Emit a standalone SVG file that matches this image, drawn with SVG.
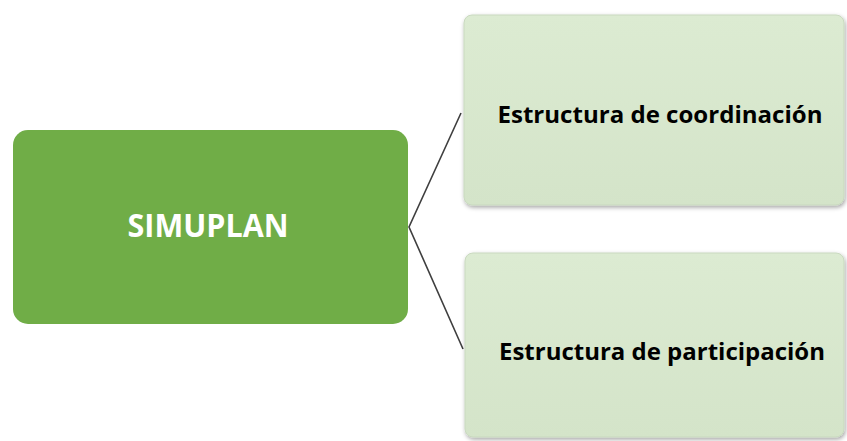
<svg xmlns="http://www.w3.org/2000/svg" width="847" height="441" viewBox="0 0 847 441">
<style>
.main{fill:#70ad47;}
.sub{fill:url(#lg);stroke:#c9d9bf;stroke-width:1;filter:url(#sh);}
.t1{font-family:"Open Sans","Liberation Sans",Arial,sans-serif;font-weight:bold;fill:#ffffff;}
.t2{font-family:"Open Sans","Liberation Sans",Arial,sans-serif;font-weight:bold;fill:#000000;}
.con{stroke:#3f3f3f;stroke-width:1.6;fill:none;}
</style>
<defs>
<linearGradient id="lg" x1="0" y1="0" x2="0" y2="1">
<stop offset="0" stop-color="#dcebd2"/>
<stop offset="1" stop-color="#d4e4c9"/>
</linearGradient>
<filter id="sh" x="-5%" y="-5%" width="110%" height="115%">
<feGaussianBlur in="SourceAlpha" stdDeviation="2"/>
<feOffset dx="1" dy="2" result="b"/>
<feFlood flood-color="#000" flood-opacity="0.35"/>
<feComposite in2="b" operator="in"/>
<feMerge><feMergeNode/><feMergeNode in="SourceGraphic"/></feMerge>
</filter>
</defs>
<rect width="847" height="441" fill="#ffffff"/>
<g id="connectors">
<polyline class="con" points="461,113 409,227 463,349"/>
</g>
<g id="simuplan">
<rect class="main" x="13" y="130" width="395" height="194" rx="15"/>
<text class="t1" x="208" y="237" font-size="33" text-anchor="middle" textLength="161" lengthAdjust="spacingAndGlyphs">SIMUPLAN</text>
</g>
<g id="coordinacion">
<rect class="sub" x="464" y="15" width="380" height="190" rx="8"/>
<text class="t2" x="660" y="123" font-size="24" text-anchor="middle" textLength="325" lengthAdjust="spacingAndGlyphs">Estructura de coordinación</text>
</g>
<g id="participacion">
<rect class="sub" x="465" y="253" width="379" height="184" rx="8"/>
<text class="t2" x="662" y="360" font-size="24" text-anchor="middle" textLength="326" lengthAdjust="spacingAndGlyphs">Estructura de participación</text>
</g>
</svg>
